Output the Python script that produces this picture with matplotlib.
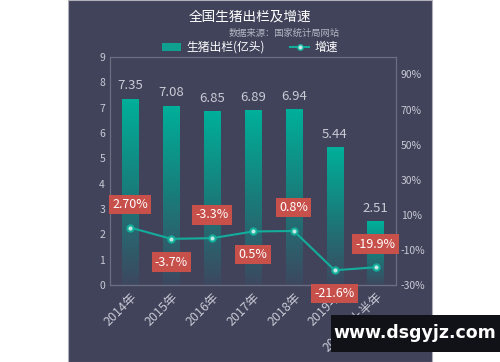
#全国生猪出栏及增速 - bar + line chart
import numpy as np
import matplotlib.pyplot as plt
from matplotlib.colors import LinearSegmentedColormap
from matplotlib.patches import Rectangle, Patch
from matplotlib.lines import Line2D

plt.rcParams['font.family'] = ['Noto Sans CJK SC', 'DejaVu Sans']

# data
years = ['2014年', '2015年', '2016年', '2017年', '2018年', '2019年', '2020年上半年']
output = [7.35, 7.08, 6.85, 6.89, 6.94, 5.44, 2.51]
growth = [2.7, -3.7, -3.3, 0.5, 0.8, -21.6, -19.9]
growth_labels = ['2.70%', '-3.7%', '-3.3%', '0.5%', '0.8%', '-21.6%', '-19.9%']
label_above = [True, False, True, False, True, False, True]

bg = '#41435b'
teal = '#00b09a'
txt = '#c9cad4'
red = '#c8504b'

fig = plt.figure(figsize=(5, 3.62), dpi=100, facecolor='white')
fig.patches.append(Rectangle((0.136, 0.0), 0.728, 1.0, transform=fig.transFigure,
                             facecolor=bg, edgecolor='#b0b0b8', lw=0.8, zorder=-10))

ax = fig.add_axes([0.22, 0.2127, 0.572, 0.630])
ax.set_facecolor(bg)
x = np.arange(len(years))

# gradient bars
cmap = LinearSegmentedColormap.from_list('g', ['#3d4860', '#197c7a', teal])
grad = np.linspace(0, 1, 256).reshape(-1, 1)
bars = ax.bar(x, output, width=0.4, color='none', zorder=2)
for b, v in zip(bars, output):
    x0 = b.get_x()
    im = ax.imshow(grad, extent=[x0, x0 + b.get_width(), 0, v], origin='lower',
                   cmap=cmap, aspect='auto', zorder=2)
    im.set_clip_path(b)
    ax.text(b.get_x() + b.get_width() / 2, v + 0.25, f'{v:.2f}', ha='center', va='bottom',
            color=txt, fontsize=9.5)

ax.set_xlim(-0.5, len(years) - 0.5)
ax.set_ylim(0, 9)
ax.set_yticks(range(10))
ax.set_xticks(x)
ax.set_xticklabels(years, rotation=45, ha='right', rotation_mode='anchor')

ax2 = ax.twinx()
ax2.set_ylim(-30, 100)
ax2.set_yticks(range(-30, 91, 20))
ax2.set_yticklabels([f'{t}%' for t in range(-30, 91, 20)])
ax2.plot(x, growth, color='#13ad9b', lw=1.5, marker='o', ms=4.5,
         mfc='#bfe9e2', mec='#13ad9b', mew=1.5, zorder=4)
for xi, g, lab, up in zip(x, growth, growth_labels, label_above):
    off = 12 if up else -12
    ax2.annotate(lab, (xi, g), xytext=(0, off), textcoords='offset points',
                 ha='center', va='bottom' if up else 'top', color='white', fontsize=9,
                 bbox=dict(boxstyle='square,pad=0.25', fc=red, ec='none'), zorder=5)

for a in (ax, ax2):
    a.tick_params(colors=txt, labelsize=7.5, length=0)
    for s in a.spines.values():
        s.set_color('#6c6e84')
        s.set_linewidth(0.8)
ax.spines['bottom'].set_color('#a8aab8')
ax.tick_params(axis='x', labelsize=9, pad=4)

fig.text(0.5, 0.955, '全国生猪出栏及增速', ha='center', va='center', color='white', fontsize=9.8)
fig.text(0.68, 0.908, '数据来源：国家统计局网站', ha='right', va='center', color='#b4b6c2', fontsize=6.7)

handles = [Patch(facecolor='#10a090', edgecolor='none'),
           Line2D([0], [0], color='#13ad9b', lw=1.5, marker='o', ms=4, mfc='#bfe9e2', mec='#13ad9b')]
fig.legend(handles, ['生猪出栏(亿头)', '增速'], loc='center', bbox_to_anchor=(0.5, 0.869),
           ncol=2, frameon=False, fontsize=8.5, labelcolor='white', handlelength=1.6,
           handleheight=0.6, columnspacing=2.2, handletextpad=0.4)

# watermark
fig.patches.append(Rectangle((0.662, 0.028), 0.338, 0.102, transform=fig.transFigure,
                             facecolor='#111118', edgecolor='none', zorder=10))
fig.text(0.83, 0.079, 'www.dsgyjz.com', ha='center', va='center', color='white',
         fontsize=12.5, fontweight='bold', family='DejaVu Sans', zorder=11)

fig.savefig('out.png', dpi=100, facecolor='white')
